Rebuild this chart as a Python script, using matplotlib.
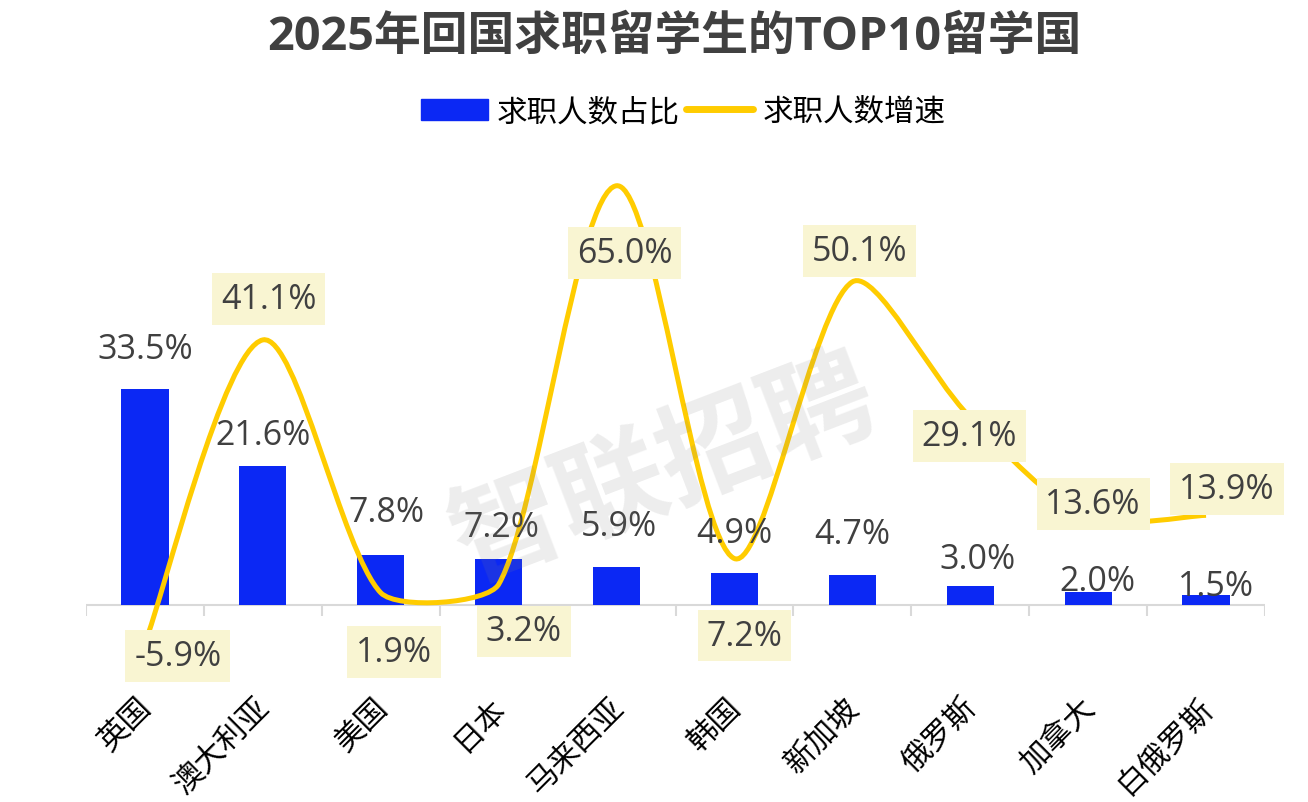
import numpy as np
import matplotlib
matplotlib.use('Agg')
import matplotlib.pyplot as plt
from matplotlib.path import Path
from matplotlib.patches import PathPatch, Patch
from matplotlib.lines import Line2D
from matplotlib.transforms import ScaledTranslation

plt.rcParams['font.family'] = ['Open Sans', 'Noto Sans CJK SC', 'DejaVu Sans']

# 数据
countries = ['英国', '澳大利亚', '美国', '日本', '马来西亚', '韩国', '新加坡', '俄罗斯', '加拿大', '白俄罗斯']
share = [33.5, 21.6, 7.8, 7.2, 5.9, 4.9, 4.7, 3.0, 2.0, 1.5]        # 求职人数占比
growth = [-5.9, 41.1, 1.9, 3.2, 65.0, 7.2, 50.1, 29.1, 13.6, 13.9]  # 求职人数增速

# label nudges in pixels (labels were hand-placed in the original)
share_dx = [0, 0, 6, 3, 2, 0, 0, 7, 9, 10]
share_dy = [40, 31, 43, 32, 41, 40, 41, 27, 11, 9]
growth_dx = [33, 6, 13, 25, 8, 10, 7, -1, 5, 21]
growth_dy = [-13, 41, -59, -47, -67, -77, 31, -19, 13, 26]

blue = '#0B28F4'
gold = '#FFCC00'
box = '#F9F5D2'
grey_txt = '#404040'

W, H = 1308, 803
fig = plt.figure(figsize=(W / 100, H / 100), dpi=100)
ax = fig.add_axes([86 / W, (H - 690) / H, (1265 - 86) / W, 540 / H])
ax.set_xlim(-0.5, 9.5)
ax.set_ylim(-84 / 6.45, 456 / 6.45)

x = np.arange(len(countries))

# bars
ax.bar(x, share, width=0.4, color=blue, zorder=2)
for i, v in enumerate(share):
    ax.annotate(f'{v:.1f}%', (x[i], v), xytext=(share_dx[i], share_dy[i]),
                textcoords='offset pixels', ha='center', va='center',
                fontsize=24.5, color=grey_txt, zorder=5)


# Excel-like smoothed line (bezier through the points, in screen space)
def smooth_path(ax, xs, ys):
    pts = ax.transData.transform(np.column_stack([xs, ys]))
    n = len(pts)
    verts = [pts[0]]
    codes = [Path.MOVETO]
    for i in range(n - 1):
        p0 = pts[max(i - 1, 0)]
        p1 = pts[i]
        p2 = pts[i + 1]
        p3 = pts[min(i + 2, n - 1)]
        d01 = np.hypot(*(p1 - p0))
        d12 = np.hypot(*(p2 - p1))
        d23 = np.hypot(*(p3 - p2))
        s1 = min(1, d12 / d01) if d01 > 0 else 1
        s2 = min(1, d12 / d23) if d23 > 0 else 1
        c1 = p1 + (p2 - p0) / 6 * s1
        c2 = p2 - (p3 - p1) / 6 * s2
        verts += [c1, c2, p2]
        codes += [Path.CURVE4] * 3
    verts = ax.transData.inverted().transform(np.array(verts))
    return Path(verts, codes)


ax.add_patch(PathPatch(smooth_path(ax, x, growth), fill=False, edgecolor=gold,
                       lw=3.6, capstyle='butt', zorder=3))
for i, v in enumerate(growth):
    ax.annotate(f'{v:.1f}%', (x[i], v), xytext=(growth_dx[i], growth_dy[i]),
                textcoords='offset pixels', ha='center', va='center',
                fontsize=24.5, color=grey_txt, zorder=6,
                bbox=dict(boxstyle='square,pad=0.26', fc=box, ec='none'))

# x axis line + category boundary ticks
ax.axhline(0, color='#D9D9D9', lw=1.5, zorder=1)
ax.vlines(np.arange(-0.5, len(countries)), 0, -11 / 6.45, color='#D9D9D9', lw=1.5, zorder=1)

for s in ax.spines.values():
    s.set_visible(False)
ax.set_yticks([])
ax.set_xticks(x, countries, rotation=45, ha='right', rotation_mode='anchor',
              fontsize=22, color='black')
ax.tick_params(axis='x', length=0, pad=0)
shift = ScaledTranslation(-8 / 100, -3 / 100, fig.dpi_scale_trans)
for lab in ax.get_xticklabels():
    lab.set_transform(lab.get_transform() + shift)

# watermark
fig.text(666 / W, 1 - 475 / H, '智联招聘', fontsize=80, fontweight='bold',
         color='#808080', alpha=0.14, rotation=21, ha='center', va='center', zorder=10)

# title + legend
fig.text(674 / W, 1 - 37 / H, '2025年回国求职留学生的TOP10留学国', ha='center', va='center',
         fontsize=33.7, fontweight='bold', color=grey_txt)
handles = [Patch(facecolor=blue, edgecolor=blue),
           Line2D([], [], color=gold, lw=5, solid_capstyle='round')]
fig.legend(handles, ['求职人数占比', '求职人数增速'], loc='center',
           bbox_to_anchor=(683 / W, 1 - 113 / H), ncol=2, frameon=False, fontsize=22,
           handlelength=2.2, handleheight=0.7, handletextpad=0.3, columnspacing=0.2)

fig.savefig('out.png', dpi=100)
